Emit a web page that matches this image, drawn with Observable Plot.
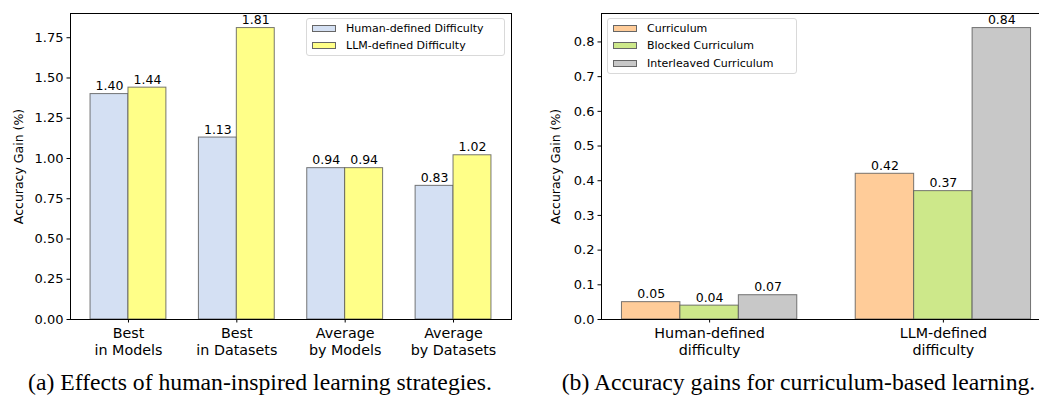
<!DOCTYPE html>
<html>
<head>
<meta charset="utf-8">
<script src="https://cdn.jsdelivr.net/npm/d3@7"></script>
<script src="https://cdn.jsdelivr.net/npm/@observablehq/plot@0.6"></script>
<style>
  html, body { margin: 0; padding: 0; background: #fff; overflow: hidden; }
  #root { position: relative; width: 1039px; height: 407px; overflow: hidden; }
  .panel { position: absolute; top: 0; }
  .legend { position: absolute; background: rgba(255,255,255,0.8); border: 1px solid #d9d9d9; border-radius: 3px;
            font-family: "DejaVu Sans", sans-serif; font-size: 11px; color: #000; box-sizing: border-box; }
  .legend .row { position: absolute; left: 0; height: 17px; display: flex; align-items: center; white-space: nowrap; }
  .legend .sw { width: 24px; height: 7px; border: 1px solid #666; box-sizing: border-box; margin-left: 5px; margin-right: 10px; }
  .caption { position: absolute; font-family: "Liberation Serif", "Times New Roman", serif; font-size: 23.7px; color: #000;
             white-space: nowrap; transform: translateX(-50%); }
</style>
</head>
<body>
<div id="root"></div>
<script>
// ---- Data: panel (a)
const catsA = ["Best\nin Models", "Best\nin Datasets", "Average\nby Models", "Average\nby Datasets"];
const seriesA = ["Human-defined Difficulty", "LLM-defined Difficulty"];
const humanA = [1.40, 1.13, 0.94, 0.83];
const llmA = [1.44, 1.81, 0.94, 1.02];
const colorsA = ["#d4e0f3", "#ffff88"];
const ticksA = [0, 0.25, 0.5, 0.75, 1.0, 1.25, 1.5, 1.75];

// ---- Data: panel (b)
const catsB = ["Human-defined\ndifficulty", "LLM-defined\ndifficulty"];
const seriesB = ["Curriculum", "Blocked Curriculum", "Interleaved Curriculum"];
const curriculumB = [0.05, 0.42];
const blockedB = [0.04, 0.37];
const interleavedB = [0.07, 0.84];
const colorsB = ["#ffcc99", "#cde88a", "#c8c8c8"];
const ticksB = [0, 0.1, 0.2, 0.3, 0.4, 0.5, 0.6, 0.7, 0.8];

const yLabel = "Accuracy Gain (%)";
const captionA = "(a) Effects of human-inspired learning strategies.";
const captionB = "(b) Accuracy gains for curriculum-based learning.";

function buildRows(cats, seriesNames, seriesValues, barW) {
  const n = seriesNames.length;
  const rows = [];
  cats.forEach((c, i) => {
    seriesNames.forEach((s, j) => {
      const x1 = i + (j - n / 2) * barW;
      rows.push({cat: c, series: s, x1, x2: x1 + barW, xc: x1 + barW / 2, value: seriesValues[j][i]});
    });
  });
  return rows;
}

const font = `"DejaVu Sans", sans-serif`;

function makePanel({cats, seriesNames, seriesValues, colors, barW, xDomain, yMax, ticks, fmt, labelX,
                    width, height, marginLeft, marginRight, marginTop, marginBottom}) {
  const rows = buildRows(cats, seriesNames, seriesValues, barW);
  return Plot.plot({
    width, height, marginLeft, marginRight, marginTop, marginBottom,
    style: {fontFamily: font, fontSize: "13px", color: "#000", background: "transparent", overflow: "visible"},
    x: {domain: xDomain},
    y: {domain: [0, yMax]},
    color: {domain: seriesNames, range: colors},
    marks: [
      Plot.rect(rows, {x1: "x1", x2: "x2", y1: 0, y2: "value", fill: "series", stroke: "#555", strokeOpacity: 0.8, strokeWidth: 1}),
      Plot.text(rows, {x: "xc", y: "value", text: d => d.value.toFixed(2), lineAnchor: "bottom", dy: -4, fontSize: 12.5, fill: "#000"}),
      Plot.frame({stroke: "#000", strokeWidth: 1}),
      Plot.axisY({ticks, tickFormat: fmt, tickSize: 3.5, tickPadding: 3.5, label: null, fontSize: 13, stroke: "#000"}),
      Plot.axisX({ticks: d3.range(cats.length), tickFormat: i => cats[i], tickSize: 3.5, tickPadding: 2.5, lineHeight: 1.22, label: null, fontSize: 14.3}),
      Plot.text([yLabel], {frameAnchor: "left", dx: labelX - marginLeft, rotate: -90, fontSize: 12.5, textAnchor: "middle", lineAnchor: "middle"})
    ]
  });
}

const root = document.getElementById("root");

const pa = makePanel({
  cats: catsA, seriesNames: seriesA, seriesValues: [humanA, llmA], colors: colorsA, barW: 0.35,
  xDomain: [-0.535, 3.535], yMax: 1.9005, ticks: ticksA, fmt: d3.format(".2f"), labelX: 18,
  width: 520, height: 365, marginLeft: 70, marginRight: 9, marginTop: 13, marginBottom: 46
});
pa.classList.add("panel"); pa.style.left = "0px";
root.appendChild(pa);

const pb = makePanel({
  cats: catsB, seriesNames: seriesB, seriesValues: [curriculumB, blockedB, interleavedB], colors: colorsB, barW: 0.25,
  xDomain: [-0.4625, 1.4625], yMax: 0.882, ticks: ticksB, fmt: d3.format(".1f"), labelX: 35,
  width: 540, height: 365, marginLeft: 81, marginRight: 9, marginTop: 13, marginBottom: 46
});
pb.classList.add("panel"); pb.style.left = "520px";
root.appendChild(pb);

function legend(items, colors, left, top, w, h) {
  const div = document.createElement("div");
  div.className = "legend";
  Object.assign(div.style, {left: left + "px", top: top + "px", width: w + "px", height: h + "px"});
  items.forEach((t, i) => {
    const row = document.createElement("div");
    row.className = "row";
    row.style.top = (0.5 + i * 17.5) + "px";
    const sw = document.createElement("span");
    sw.className = "sw"; sw.style.background = colors[i];
    const tx = document.createElement("span");
    tx.textContent = t;
    row.appendChild(sw); row.appendChild(tx);
    div.appendChild(row);
  });
  root.appendChild(div);
}
legend(seriesA, colorsA, 306, 18, 199, 38);
legend(seriesB, colorsB, 607, 18, 190, 56);

function caption(text, cx, top) {
  const d = document.createElement("div");
  d.className = "caption"; d.textContent = text;
  d.style.left = cx + "px"; d.style.top = top + "px";
  root.appendChild(d);
}
caption(captionA, 260, 369);
caption(captionB, 798.5, 369);
</script>
</body>
</html>
